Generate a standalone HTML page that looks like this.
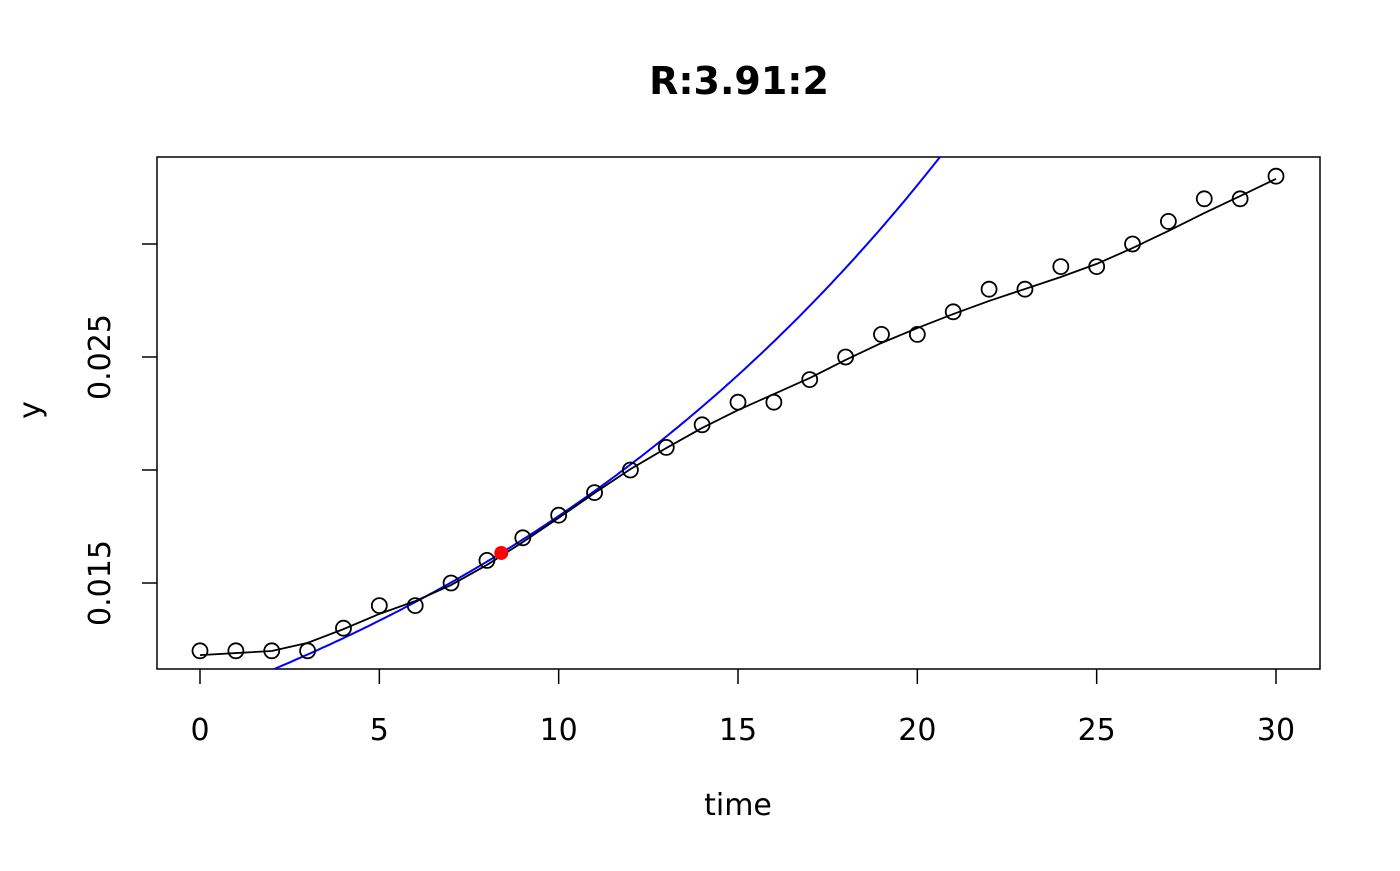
<!DOCTYPE html>
<html><head><meta charset="utf-8"><style>
body{margin:0;background:#fff;}
svg text{font-family:"DejaVu Sans","Liberation Sans",sans-serif;}
</style></head><body>
<svg id="chart" width="1400" height="866" xmlns="http://www.w3.org/2000/svg">
<defs><clipPath id="pc"><rect x="157" y="157" width="1163" height="512"/></clipPath></defs>
<rect width="1400" height="866" fill="#fff"/>
<text x="739" y="94" text-anchor="middle" font-size="38" font-weight="bold">R:3.91:2</text>
<rect x="157" y="157" width="1163" height="512" fill="none" stroke="#000" stroke-width="1.5"/>
<text x="738" y="815" text-anchor="middle" font-size="30">time</text>
<text transform="translate(40,410) rotate(-90)" text-anchor="middle" font-size="30">y</text>
<g id="axes"></g>
<g id="marks" clip-path="url(#pc)"></g>
<g id="pts"></g>
</svg>
<script>
const times=[0,1,2,3,4,5,6,7,8,9,10,11,12,13,14,15,16,17,18,19,20,21,22,23,24,25,26,27,28,29,30];
const yObs=[0.012,0.012,0.012,0.012,0.013,0.014,0.014,0.015,0.016,0.017,0.018,0.019,0.020,0.021,0.022,0.023,0.023,0.024,0.025,0.026,0.026,0.027,0.028,0.028,0.029,0.029,0.030,0.031,0.032,0.032,0.033];
const ySmooth=[0.01181,0.01190,0.01199,0.01235,0.01296,0.01363,0.01420,0.01491,0.01580,0.01681,0.01788,0.01898,0.02004,0.02097,0.02186,0.02265,0.02336,0.02407,0.02487,0.02562,0.02628,0.02690,0.02748,0.02801,0.02854,0.02912,0.02982,0.03058,0.03137,0.03212,0.03288];
const expParams=[8.4,0.01633,0.0596]; // t0, y0, rate
const xTicks=[0,5,10,15,20,25,30];
const yTicks=[0.015,0.020,0.025,0.030];
const yTickLabels=["0.015","","0.025",""];
const NS="http://www.w3.org/2000/svg";
const sx=t=>200+t*(1276-200)/30;
const sy=v=>583-(v-0.015)*22600;
function mk(tag,attrs,parent){const e=document.createElementNS(NS,tag);for(const k in attrs)e.setAttribute(k,attrs[k]);document.getElementById(parent).appendChild(e);return e;}
xTicks.forEach((t,i)=>{
 const l=mk('line',{x1:sx(t),x2:sx(t),y1:669,y2:684,stroke:'#000','stroke-width':1.5},'axes');
 
 
 const tx=mk('text',{x:sx(t),y:740,'text-anchor':'middle','font-size':30},'axes');tx.textContent=t;
 
 
});
yTicks.forEach((v,i)=>{
 const l=mk('line',{x1:142,x2:157,y1:sy(v),y2:sy(v),stroke:'#000','stroke-width':1.5},'axes');
 
 
 if(yTickLabels[i]){const tx=mk('text',{transform:`translate(110,${sy(v)}) rotate(-90)`,'text-anchor':'middle','font-size':30},'axes');tx.textContent=yTickLabels[i];
 
 }
});
let d='';for(let t=0;t<=31;t+=0.1){const v=expParams[1]*Math.exp(expParams[2]*(t-expParams[0]));d+=(d?'L':'M')+sx(t).toFixed(1)+','+sy(v).toFixed(1);}
const ex=mk('path',{d:d,fill:'none',stroke:'#0000ff','stroke-width':2},'marks');


const sm=mk('path',{d:times.map((t,i)=>(i?'L':'M')+sx(t)+','+sy(ySmooth[i])).join(''),fill:'none',stroke:'#000','stroke-width':1.8},'marks');


times.forEach((t,i)=>{
 const c=mk('circle',{cx:sx(t),cy:sy(yObs[i]),r:7.5,fill:'none',stroke:'#000','stroke-width':1.8},'pts');
 
 
});
const rp=mk('circle',{cx:sx(expParams[0]),cy:sy(expParams[1]),r:7,fill:'#ff0000'},'pts');


</script>
</body></html>
